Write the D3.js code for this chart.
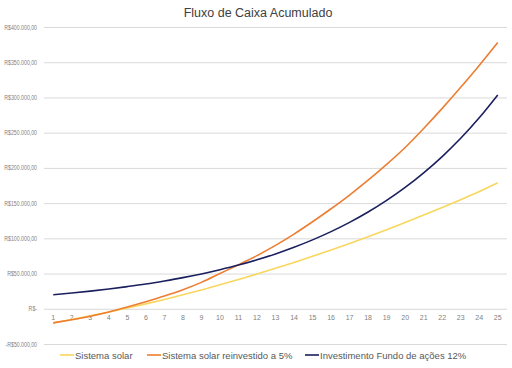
<!DOCTYPE html>
<html><head><meta charset="utf-8">
<script src="https://cdn.jsdelivr.net/npm/d3@7"></script>
<style>body{margin:0;background:#fff}svg{display:block}text{font-family:"Liberation Sans",Arial,sans-serif}</style>
</head><body><svg id="c" width="512" height="368"></svg>
<script>
const years = d3.range(1, 26).map(String);
const solar = [-20,-15.2,-10.1,-4.7,1.0,7.0,13.3,19.9,26.8,34.0,41.5,49.3,57.4,65.8,74.5,83.5,92.8,102.4,112.3,122.5,133.0,143.8,154.9,166.5,179.0].map(v=>v*1000);
const reinvest = [-20,-15.5,-10.5,-4.5,2.5,10,18,27,37.5,50,62.5,75.5,90,106,123.5,142,161.5,182.5,205,229,256,284.5,314.5,345.5,378].map(v=>v*1000);
const fundo = [20.0,22.4,25.1,28.1,31.5,35.2,39.5,44.2,49.5,55.5,62.1,69.6,77.9,87.3,97.8,109.5,122.6,137.3,153.8,172.3,193.0,216.1,242.0,271.1,303.6].map(v=>v*1000);
const yTicks = [-50000,0,50000,100000,150000,200000,250000,300000,350000,400000];
const seriesNames = ["Sistema solar","Sistema solar reinvestido a 5%","Investimento Fundo de ações 12%"];
const colors = ["#F9D65C","#ED7D31","#1B1F5E"];
const title = "Fluxo de Caixa Acumulado";

const svg = d3.select("#c");
const L=44, R=507, T=27, B=344;
const x = d3.scaleBand().domain(years).range([L,R]);
const y = d3.scaleLinear().domain([-50000,400000]).range([B,T]);

const fmt = v => {
  if (v===0) return "R$-";
  const s = "R$" + d3.format(",.2f")(Math.abs(v)).replace(/,/g,"#").replace(/\./g,",").replace(/#/g,".");
  return v<0 ? "-"+s : s;
};

svg.append("text").attr("x",258).attr("y",17).attr("text-anchor","middle")
  .attr("font-size",12.5).attr("fill","#404040").text(title);

const yAxis = svg.append("g").attr("transform",`translate(${L},0)`)
  .call(d3.axisLeft(y).tickValues(yTicks).tickSize(-(R-L)).tickFormat(fmt).tickPadding(7));
yAxis.select(".domain").remove();
yAxis.selectAll(".tick line").attr("stroke","#D9D9D9").attr("stroke-width",1);
yAxis.selectAll(".tick text").attr("fill","#7F7F7F").attr("font-size",6.5)
  .each(function(){
    const w = this.getComputedTextLength();
    d3.select(this).attr("textLength", w*0.8).attr("lengthAdjust","spacingAndGlyphs");
  });

const xAxis = svg.append("g").attr("transform",`translate(0,${y(0)})`)
  .call(d3.axisBottom(x).tickSize(0).tickPadding(6));
xAxis.select(".domain").remove();
xAxis.selectAll(".tick text").attr("fill","#7F7F7F").attr("font-size",7);

const line = d3.line().x((d,i)=>x(years[i])+x.bandwidth()/2).y(d=>y(d)).curve(d3.curveMonotoneX);
[solar,reinvest,fundo].forEach((s,k)=>{
  svg.append("path").datum(s).attr("d",line).attr("fill","none")
    .attr("stroke",colors[k]).attr("stroke-width",1.6);
});

const legX = [60,147,305];
seriesNames.forEach((n,k)=>{
  const g = svg.append("g").attr("transform",`translate(${legX[k]},355)`);
  g.append("line").attr("x1",0).attr("x2",14).attr("y1",0).attr("y2",0).attr("stroke",colors[k]).attr("stroke-width",1.6);
  g.append("text").attr("x",15).attr("y",3.5).attr("font-size",9.5).attr("fill","#595959").text(n);
});
</script></body></html>
